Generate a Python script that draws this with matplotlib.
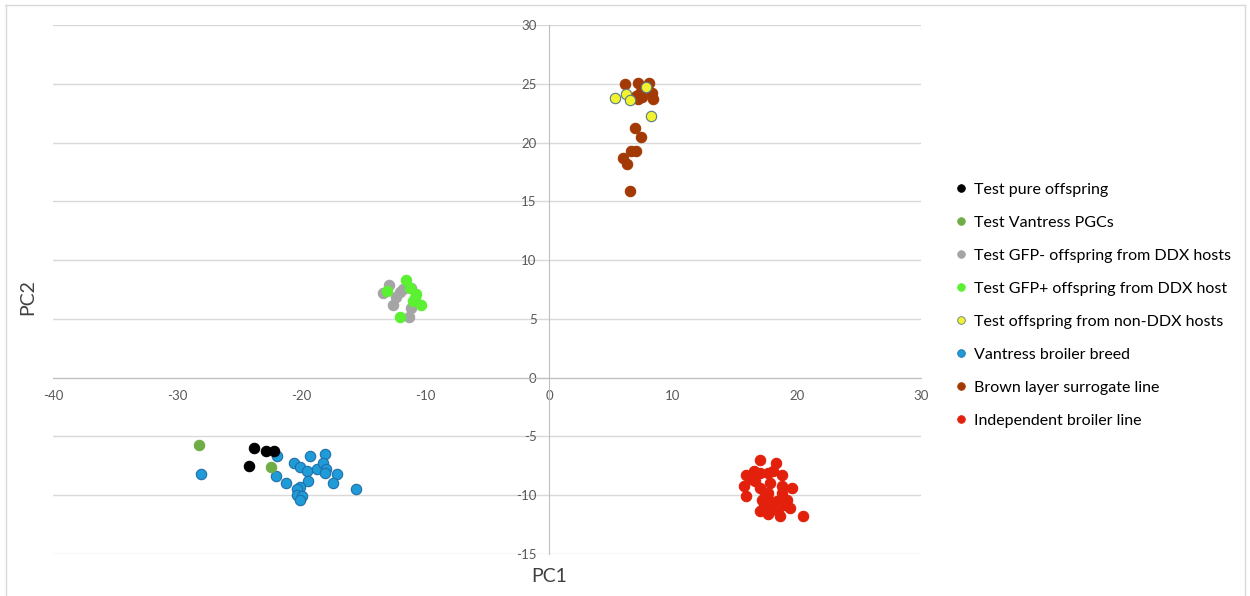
import matplotlib
matplotlib.use("Agg")
import matplotlib.pyplot as plt
from matplotlib.lines import Line2D

# ---------------- data ----------------
labels = [
    "Test pure offspring",
    "Test Vantress PGCs",
    "Test GFP- offspring from DDX hosts",
    "Test GFP+ offspring from DDX host",
    "Test offspring from non-DDX hosts",
    "Vantress broiler breed",
    "Brown layer surrogate line",
    "Independent broiler line",
]

pure_x = [-23.8, -22.8, -22.2, -24.2]
pure_y = [-6.0, -6.2, -6.2, -7.5]

pgc_x = [-28.2, -22.4]
pgc_y = [-5.7, -7.6]

gfpneg_x = [-12.9, -13.4, -11.8, -11.1, -12.3, -12.6, -11.1, -11.3, -12.0]
gfpneg_y = [7.85, 7.2, 7.5, 7.6, 6.9, 6.2, 5.9, 5.15, 7.3]

gfppos_x = [-11.5, -13.1, -10.7, -10.8, -11.0, -10.3, -12.0, -11.2]
gfppos_y = [8.27, 7.4, 7.1, 6.75, 6.55, 6.15, 5.15, 7.6]

nonddx_x = [5.3, 6.2, 6.5, 7.8, 8.2]
nonddx_y = [23.8, 24.1, 23.6, 24.7, 22.3]

vantress_x = [-21.9, -28.1, -19.3, -18.1, -20.6, -20.1, -19.5, -18.7, -18.25,
              -18.0, -18.1, -17.1, -17.4, -15.6, -22.0, -21.2, -19.4, -20.1,
              -20.3, -20.3, -19.9, -20.1]
vantress_y = [-6.7, -8.2, -6.7, -6.5, -7.3, -7.6, -7.95, -7.75, -7.3,
              -7.75, -8.15, -8.2, -8.95, -9.5, -8.4, -9.0, -8.75, -9.3,
              -9.5, -10.0, -10.1, -10.4]

brown_x = [6.1, 7.2, 8.1, 7.3, 8.3, 7.2, 8.4, 7.5, 7.0, 6.9, 7.4, 6.6, 7.0, 6.0, 6.3, 6.5]
brown_y = [25.0, 25.1, 25.1, 24.2, 24.2, 23.7, 23.7, 23.9, 24.0, 21.2, 20.5, 19.3, 19.3, 18.7, 18.2, 15.9]

indep_x = [17.0, 18.3, 15.9, 16.5, 17.0, 17.7, 18.1, 18.8, 16.6, 17.8, 15.7, 17.0,
           18.8, 19.6, 15.9, 17.7, 18.8, 17.15, 17.7, 18.4, 19.2, 17.3, 18.1, 19.0,
           17.0, 17.8, 18.5, 19.4, 17.7, 18.6, 20.5, 16.2, 17.4, 18.2]
indep_y = [-7.0, -7.25, -8.25, -7.95, -8.1, -8.1, -7.9, -8.3, -8.8, -8.95, -9.2, -9.4,
           -9.2, -9.4, -10.1, -9.8, -9.85, -10.4, -10.3, -10.5, -10.4, -10.8, -10.9, -10.8,
           -11.3, -11.35, -11.2, -11.1, -11.6, -11.8, -11.8, -8.6, -9.9, -10.7]

x_ticks = [-40, -30, -20, -10, 0, 10, 20, 30]
y_ticks = [-15, -10, -5, 0, 5, 10, 15, 20, 25, 30]

# ---------------- styles ----------------
series = [
    (pure_x, pure_y, "#000000", "#000000"),
    (pgc_x, pgc_y, "#70AD47", "#70AD47"),
    (gfpneg_x, gfpneg_y, "#A5A5A5", "#A5A5A5"),
    (gfppos_x, gfppos_y, "#5CF032", "#5CF032"),
    (nonddx_x, nonddx_y, "#F2F22E", "#5A7A8A"),
    (vantress_x, vantress_y, "#1F9BD7", "#1F6FA8"),
    (brown_x, brown_y, "#A33A06", "#A33A06"),
    (indep_x, indep_y, "#E2200C", "#E2200C"),
]
# draw order as in reference (test offspring on top of references)
draw_order = [5, 6, 7, 0, 1, 2, 3, 4]

plt.rcParams['font.family'] = ['Lato', 'DejaVu Sans']

fig = plt.figure(figsize=(12.5, 5.96), dpi=100)
ax = fig.add_axes([53 / 1250, 42 / 596, (921 - 53) / 1250, (571 - 42) / 596])

for i in draw_order:
    xs, ys, fc, ec = series[i]
    ax.scatter(xs, ys, s=56, color=fc, edgecolors=ec, linewidths=0.8, zorder=3)

ax.set_xlim(-40, 30)
ax.set_ylim(-15, 30)
ax.set_xticks(x_ticks)
ax.set_yticks(y_ticks)

for y in y_ticks:
    ax.axhline(y, color="#D9D9D9", lw=1.0, zorder=1)

for s in ["top", "right"]:
    ax.spines[s].set_visible(False)
ax.spines["left"].set_position(("data", 0))
ax.spines["bottom"].set_position(("data", 0))
ax.spines["left"].set_color("#BFBFBF")
ax.spines["bottom"].set_color("#BFBFBF")
ax.spines["left"].set_zorder(2)
ax.spines["bottom"].set_zorder(2)
ax.tick_params(length=0, labelsize=9.5, labelcolor="#595959", pad=9)
ax.set_xticklabels([str(v) for v in x_ticks])
ax.set_yticklabels([str(v) for v in y_ticks])

fig.text(549 / 1250, 1 - 576 / 596, "PC1", ha="center", va="center",
         fontsize=14, color="#404040")
fig.text(28 / 1250, 1 - 297 / 596, "PC2", ha="center", va="center",
         fontsize=14, color="#404040", rotation=90)

handles = [Line2D([0], [0], marker="o", linestyle="none", markersize=5.5,
                  markerfacecolor=series[i][2], markeredgecolor=series[i][3],
                  markeredgewidth=0.6) for i in range(len(labels))]
leg = fig.legend(handles, labels, loc="upper left",
                 bbox_to_anchor=(950 / 1250, 1 - 176 / 596),
                 frameon=False, fontsize=11.5, labelspacing=1.18,
                 handlelength=0.6, handletextpad=0.5, borderaxespad=0)
for t in leg.get_texts():
    t.set_color("#000000")

# outer frame
fig.add_artist(Line2D([5 / 1250, 1245 / 1250], [1 - 5 / 596, 1 - 5 / 596],
                      transform=fig.transFigure, color="#D9D9D9", lw=1))
fig.add_artist(Line2D([6 / 1250, 6 / 1250], [0, 1 - 5 / 596],
                      transform=fig.transFigure, color="#D9D9D9", lw=1))
fig.add_artist(Line2D([1245 / 1250, 1245 / 1250], [0, 1 - 5 / 596],
                      transform=fig.transFigure, color="#D9D9D9", lw=1))

fig.savefig("out.png", dpi=100)
